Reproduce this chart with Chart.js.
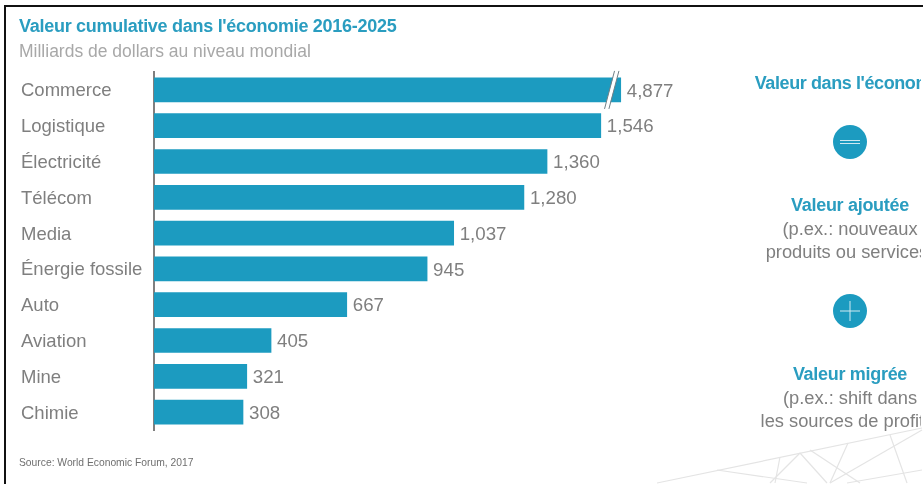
<!DOCTYPE html>
<html lang="fr">
<head>
<meta charset="utf-8">
<script src="https://cdn.jsdelivr.net/npm/chart.js@4"></script>
<style>
html,body{margin:0;padding:0;background:#fff;width:923px;height:484px;overflow:hidden;font-family:"Liberation Sans",Arial,sans-serif}
#wrap{position:relative;width:923px;height:484px;overflow:hidden}
#c{position:absolute;left:0;top:0}
.t{position:absolute;white-space:nowrap;line-height:1}
#frame{position:absolute;left:4px;top:5px;width:917px;height:490px;border:2px solid #111;box-sizing:content-box}
.side{position:absolute;left:700px;width:300px;text-align:center;white-space:nowrap;line-height:1}
#clip{position:absolute;left:0;top:0;width:921px;height:484px;overflow:hidden}
svg{position:absolute;left:0;top:0}
</style>
</head>
<body>
<div id="wrap">
<svg width="923" height="484" id="deco"></svg>
<canvas id="c" width="923" height="484"></canvas>
<div id="clip">
<div class="t" style="left:19px;top:17px;font-size:18px;font-weight:bold;color:#2a9dc0;letter-spacing:-.28px">Valeur cumulative dans l'économie 2016-2025</div>
<div class="t" style="left:19px;top:43px;font-size:17.5px;color:#a8a8a8">Milliards de dollars au niveau mondial</div>
<div class="t" style="left:19px;top:458px;font-size:10.3px;color:#6f6f6f">Source: World Economic Forum, 2017</div>
<div class="side" style="top:74px;font-size:18px;font-weight:bold;color:#2a9dc0;letter-spacing:-.4px">Valeur dans l'économie</div>
<div class="side" style="top:196px;font-size:18px;font-weight:bold;color:#2a9dc0;letter-spacing:-.3px">Valeur ajoutée</div>
<div class="side" style="top:220px;font-size:18.3px;color:#7f7f7f">(p.ex.: nouveaux</div>
<div class="side" style="top:243px;font-size:18.3px;color:#7f7f7f">produits ou services)</div>
<div class="side" style="top:365px;font-size:18px;font-weight:bold;color:#2a9dc0;letter-spacing:-.3px">Valeur migrée</div>
<div class="side" style="top:389px;font-size:18.3px;color:#7f7f7f">(p.ex.: shift dans</div>
<div class="side" style="top:412px;font-size:18.3px;color:#7f7f7f">les sources de profits)</div>
</div>
<div id="frame"></div>
</div>
<script>
const categories = ["Commerce","Logistique","Électricité","Télécom","Media","Énergie fossile","Auto","Aviation","Mine","Chimie"];
const actualValues = [4877,1546,1360,1280,1037,945,667,405,321,308];
// Commerce's bar is drawn with a broken axis in the source: its visible length is shorter than its value.
const drawnValues = [1615,1546,1360,1280,1037,945,667,405,321,308];
const valueLabels = ["4,877","1,546","1,360","1,280","1,037","945","667","405","321","308"];
const BLUE = "#1c9bc0", GREY = "#7f7f7f";

const barExtras = {
  id:"barExtras",
  afterDatasetsDraw(chart){
    const ctx = chart.ctx, meta = chart.getDatasetMeta(0);
    ctx.save();
    ctx.font = "18.7px 'Liberation Sans', Arial, sans-serif";
    ctx.fillStyle = GREY;
    ctx.textBaseline = "middle";
    meta.data.forEach((bar,i)=> ctx.fillText(valueLabels[i], bar.x + 6, bar.y + 1.5));
    // axis break on the first bar
    const b = meta.data[0], cx = b.x - 9, cy = b.y;
    ctx.strokeStyle = "#fff"; ctx.lineWidth = 4;
    ctx.beginPath(); ctx.moveTo(cx-5,cy+18); ctx.lineTo(cx+5,cy-18); ctx.stroke();
    ctx.strokeStyle = "#6f7f86"; ctx.lineWidth = 1;
    [-2.2,2.2].forEach(d=>{
      ctx.beginPath(); ctx.moveTo(cx+d-5,cy+19); ctx.lineTo(cx+d+5,cy-19); ctx.stroke();
    });
    ctx.restore();
  }
};

new Chart(document.getElementById("c"),{
  type:"bar",
  data:{labels:categories,datasets:[{data:drawnValues,backgroundColor:BLUE,barThickness:24,borderSkipped:false}]},
  plugins:[barExtras],
  options:{
    indexAxis:"y",responsive:false,animation:false,devicePixelRatio:1,
    layout:{padding:{left:21,top:72,bottom:54,right:191}},
    plugins:{legend:{display:false},title:{display:false},tooltip:{enabled:false}},
    scales:{
      x:{display:false,min:0,max:2000},
      y:{
        afterFit(s){s.width=133;},
        grid:{display:false,drawTicks:false},
        border:{display:true,color:"#7f7f7f",width:2},
        ticks:{crossAlign:"far",padding:0,labelOffset:1.5,color:GREY,autoSkip:false,font:{family:"'Liberation Sans', Arial, sans-serif",size:18.5}}
      }
    }
  }
});

// Background decoration and the two circle symbols
const svg = document.getElementById("deco");
const NS = "http://www.w3.org/2000/svg";
function el(n,a,p){const e=document.createElementNS(NS,n);for(const k in a)e.setAttribute(k,a[k]);(p||svg).appendChild(e);return e;}
[[657,483,922,428],[717,470,807,483],[800,453,770,483],[780,457,775,483],[800,453,827,483],[810,450,860,483],[848,443,830,483],[830,483,922,430],[890,435,907,483],[847,483,922,470]]
 .forEach(l=>el("line",{x1:l[0],y1:l[1],x2:l[2],y2:l[3],stroke:"#e4e4e4","stroke-width":1.2}));
el("circle",{cx:850,cy:142,r:17,fill:BLUE});
el("circle",{cx:850,cy:311,r:17,fill:BLUE});
[[840,140.5,860,140.5],[840,143.5,860,143.5],[840,311,860,311],[850,301,850,321]]
 .forEach(l=>el("line",{x1:l[0],y1:l[1],x2:l[2],y2:l[3],stroke:"#cfe9f1","stroke-width":1}));
</script>
</body>
</html>
